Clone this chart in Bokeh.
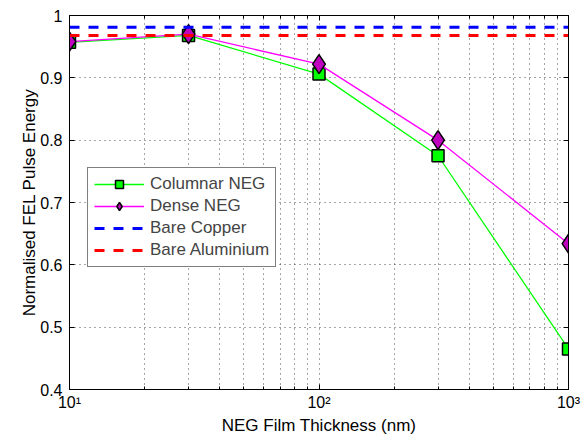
from bokeh.plotting import figure
from bokeh.models import (FixedTicker, LogAxis, LinearAxis, Range1d, Legend,
                          NumeralTickFormatter, LegendItem)
from bokeh.embed import file_html
from bokeh.resources import INLINE

thickness = [10, 30, 100, 300, 1000]
columnar = [0.957, 0.968, 0.906, 0.775, 0.465]
dense = [0.958, 0.970, 0.922, 0.800, 0.634]
bare_copper = 0.981
bare_aluminium = 0.968
x_major = [10, 100, 1000]
x_labels = {10: "10¹", 100: "10²", 1000: "10³"}
x_minor = [20, 30, 40, 50, 60, 70, 80, 90, 200, 300, 400, 500, 600, 700, 800, 900]
y_ticks = [0.4, 0.5, 0.6, 0.7, 0.8, 0.9, 1.0]

FONT = "Liberation Sans"

p = figure(width=586, height=441, x_axis_type="log", output_backend="svg",
           toolbar_location=None, x_range=Range1d(10, 1000), y_range=Range1d(0.4, 1.0),
           min_border_left=69, min_border_right=18, min_border_top=15, min_border_bottom=52)
p.outline_line_color = "black"
p.outline_line_width = 1
p.background_fill_color = "white"
p.border_fill_color = "white"

# axes
xa = p.xaxis[0]
xa.ticker = FixedTicker(ticks=x_major, minor_ticks=x_minor)
xa.major_label_overrides = x_labels
ya = p.yaxis[0]
ya.ticker = FixedTicker(ticks=y_ticks)
ya.formatter = NumeralTickFormatter(format="0.[0]")
for ax in (xa, ya):
    ax.major_tick_in = 5
    ax.major_tick_out = 0
    ax.minor_tick_in = 3
    ax.minor_tick_out = 0
    ax.axis_line_color = "black"
    ax.major_tick_line_color = "black"
    ax.minor_tick_line_color = "black"
    ax.major_label_text_font = FONT
    ax.major_label_text_font_size = "16px"
    ax.major_label_text_color = "black"
    ax.axis_label_text_font = FONT
    ax.axis_label_text_font_size = "17px"
    ax.axis_label_text_font_style = "normal"
    ax.axis_label_text_color = "black"
ya.minor_tick_line_color = None
xa.axis_label = "NEG Film Thickness (nm)"
ya.axis_label = "Normalised FEL Pulse Energy"
xa.major_label_standoff = 4
ya.major_label_standoff = 7
xa.axis_label_standoff = 2
ya.axis_label_standoff = -2

# grids
for g in (p.xgrid[0], p.ygrid[0]):
    g.grid_line_color = "black"
    g.grid_line_dash = "1 4"
    g.grid_line_width = 1
    g.grid_line_alpha = 0.7
p.xgrid[0].ticker = FixedTicker(ticks=x_major, minor_ticks=x_minor)
p.ygrid[0].ticker = FixedTicker(ticks=y_ticks)
p.xgrid[0].minor_grid_line_color = "black"
p.xgrid[0].minor_grid_line_dash = "1 4"
p.xgrid[0].minor_grid_line_alpha = 0.7

# box axes top/right (ticks only)
top = LogAxis(ticker=FixedTicker(ticks=x_major, minor_ticks=x_minor),
              major_label_overrides={10: " ", 100: " ", 1000: " "},
              major_label_text_color=None, major_label_text_font_size="1px",
              major_tick_in=5, major_tick_out=0,
              minor_tick_in=3, minor_tick_out=0, axis_line_color="black",
              major_label_standoff=0)
right = LinearAxis(ticker=FixedTicker(ticks=y_ticks),
                   major_label_text_color=None, major_label_text_font_size="1px",
                   major_tick_in=5, major_tick_out=0,
                   minor_tick_line_color=None, axis_line_color="black",
                   major_label_standoff=0)
p.add_layout(top, "above")
p.add_layout(right, "right")

# data
xs_h = [thickness[0], thickness[-1]]
l1 = p.line(thickness, columnar, line_color="#00FF00", line_width=1.3)
m1 = p.scatter(thickness, columnar, marker="square", size=12, fill_color="#00FF00",
               line_color="black", line_width=1.5)
l2 = p.line(thickness, dense, line_color="#FF00FF", line_width=1.3)
m2 = p.scatter(thickness, dense, marker="diamond", size=19, fill_color="#BF00BF",
               line_color="black", line_width=1.5)
l3 = p.line(xs_h, [bare_copper, bare_copper], line_color="#0000FF", line_width=3,
            line_dash="10 9")
l4 = p.line(xs_h, [bare_aluminium, bare_aluminium], line_color="#FF0000", line_width=3,
            line_dash="10 9")

legend = Legend(items=[
    LegendItem(label="Columnar NEG", renderers=[l1, m1]),
    LegendItem(label="Dense NEG", renderers=[l2, m2]),
    LegendItem(label="Bare Copper", renderers=[l3]),
    LegendItem(label="Bare Aluminium", renderers=[l4]),
], location=(18, 122))
legend.border_line_color = "black"
legend.border_line_width = 1
legend.background_fill_alpha = 1
legend.label_text_font = FONT
legend.label_text_font_size = "17px"
legend.glyph_width = 50
legend.glyph_height = 20
legend.spacing = 2
legend.padding = 6
legend.margin = 0
legend.label_standoff = 6
p.add_layout(legend, "center")

open("out.html", "w").write(file_html(p, INLINE))
